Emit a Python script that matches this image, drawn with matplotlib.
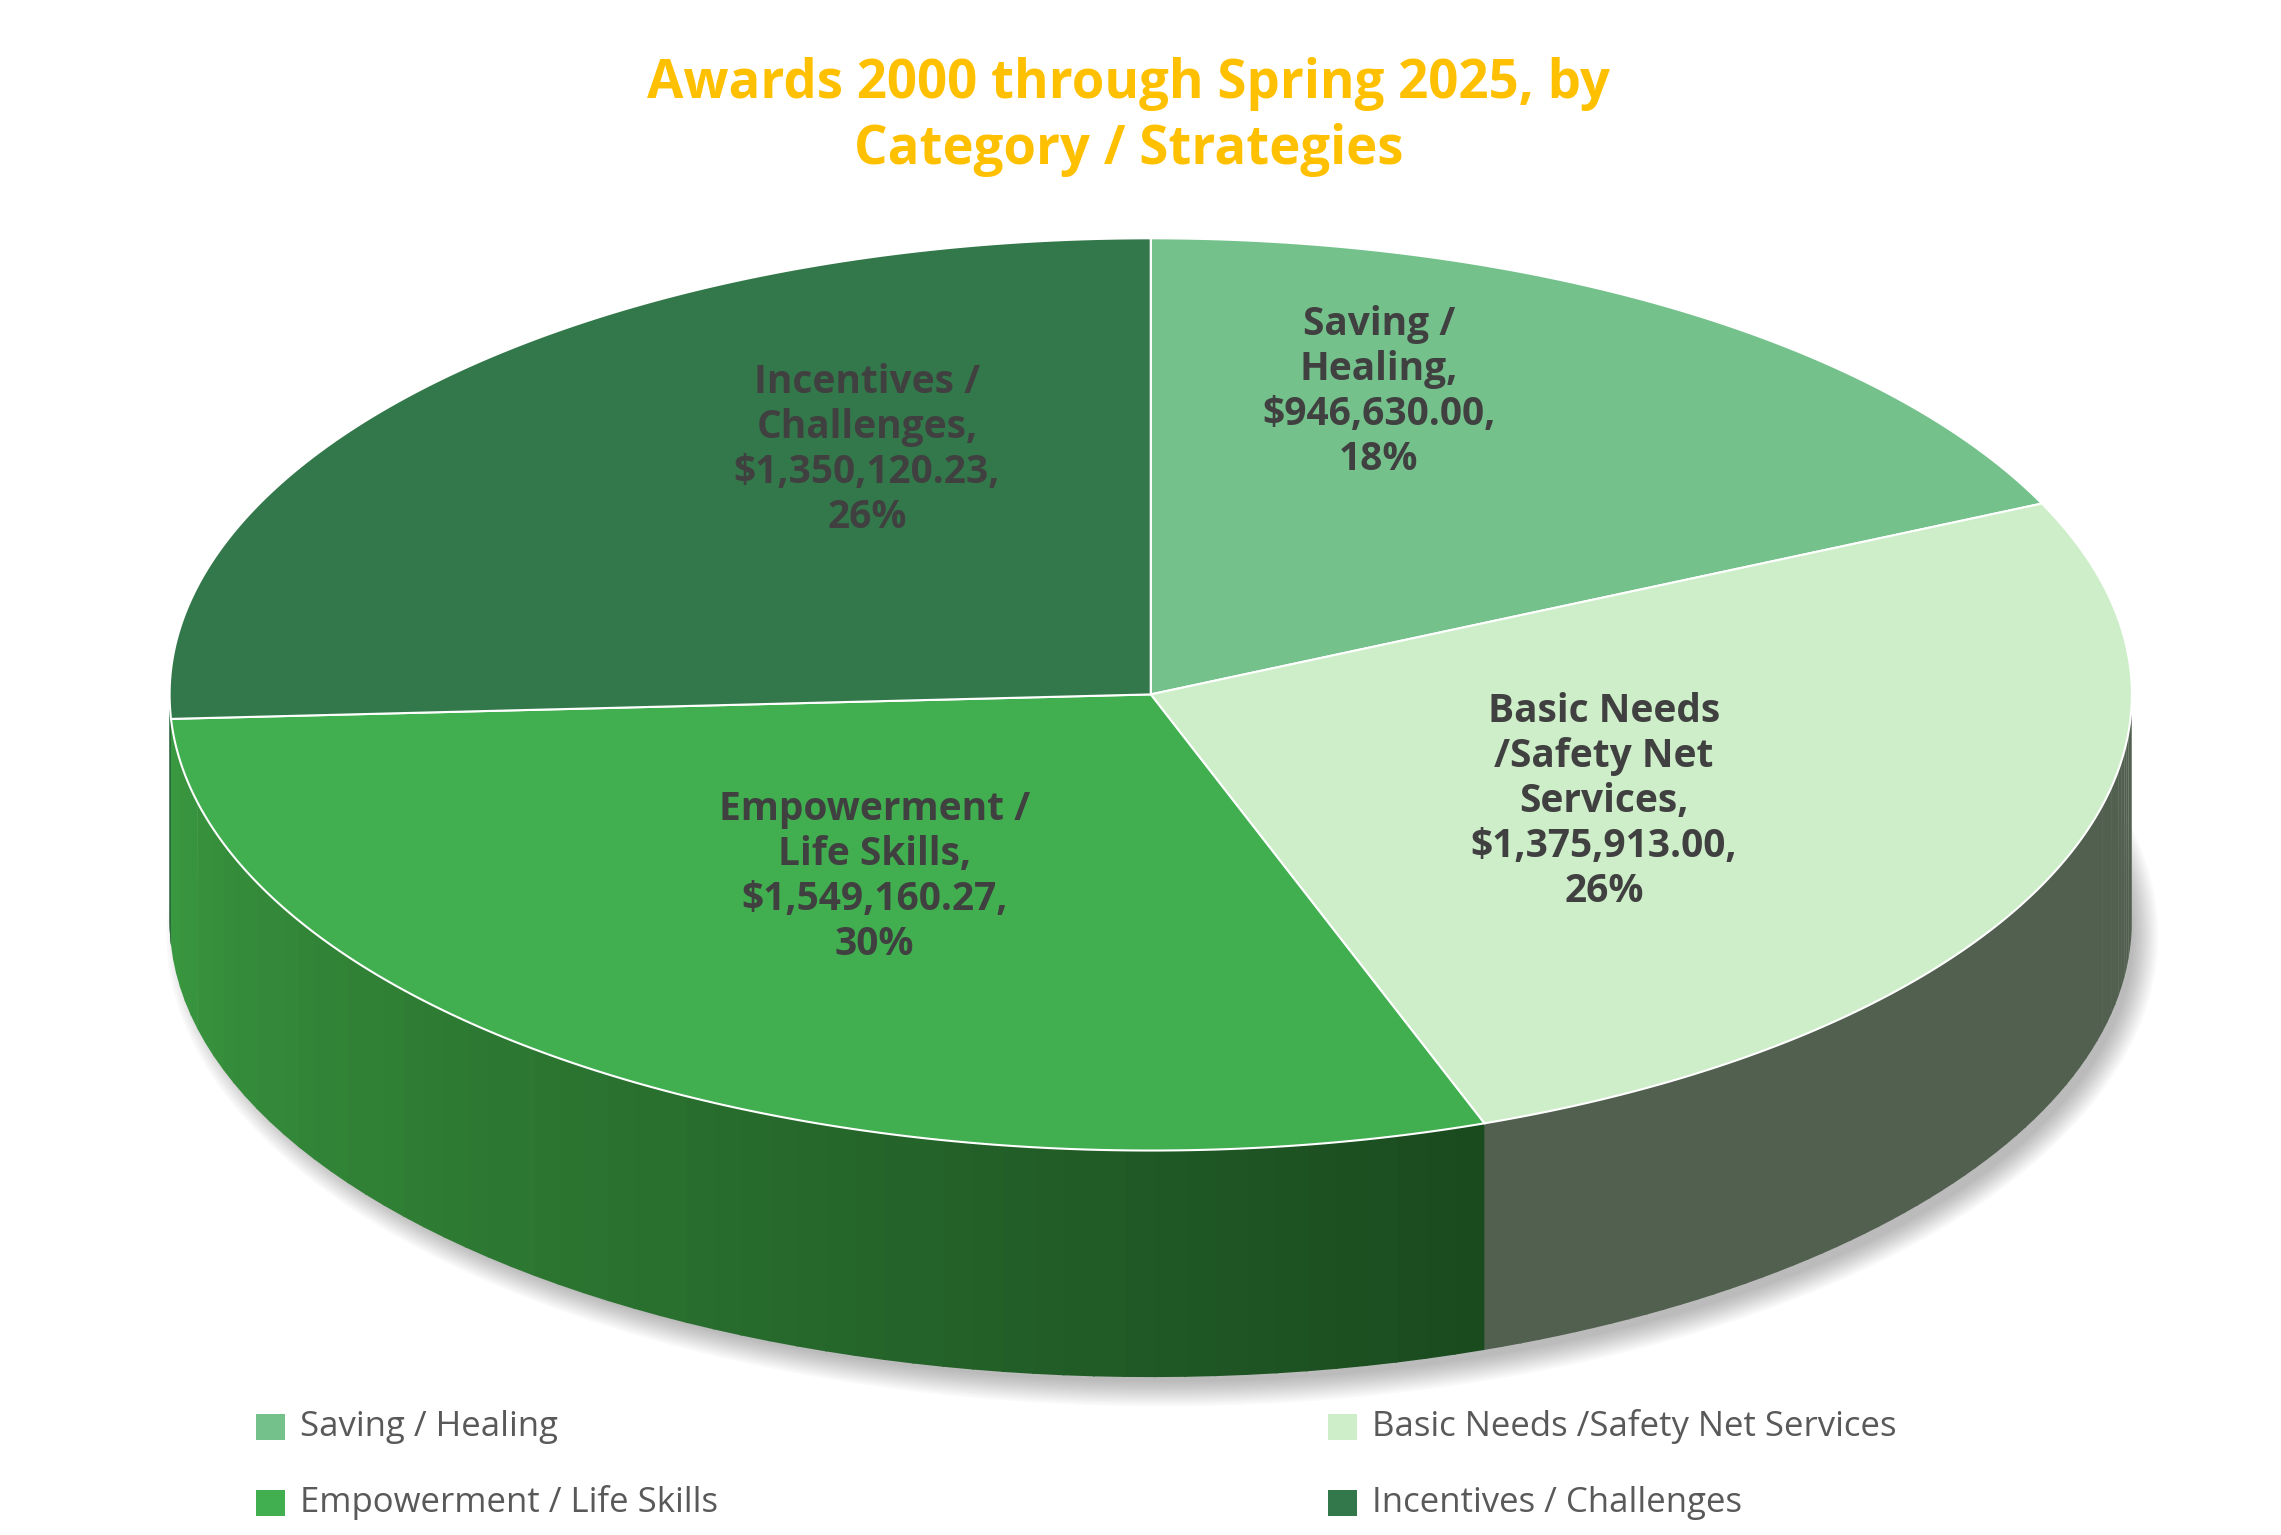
import numpy as np
import matplotlib.pyplot as plt
from matplotlib.patches import Polygon, Ellipse, Rectangle
import matplotlib.colors as mcolors

# =========================
# DATA
# =========================
categories = ["Saving / Healing", "Basic Needs /Safety Net Services",
              "Empowerment / Life Skills", "Incentives / Challenges"]
amounts = [946630.00, 1375913.00, 1549160.27, 1350120.23]
slice_labels = ["Saving /\nHealing,\n$946,630.00,\n18%",
                "Basic Needs\n/Safety Net\nServices,\n$1,375,913.00,\n26%",
                "Empowerment /\nLife Skills,\n$1,549,160.27,\n30%",
                "Incentives /\nChallenges,\n$1,350,120.23,\n26%"]
top_colors = ["#75c18c", "#cdeec8", "#41ae50", "#33784a"]
side_colors = [("#5a9a6c", "#5a9a6c"), ("#526050", "#526050"),
               ("#3a9a40", "#1a4a1f"), ("#2a6a3c", "#2a6a3c")]

plt.rcParams['font.family'] = ['Open Sans', 'DejaVu Sans']

W, H = 1560, 1050
fig = plt.figure(figsize=(22.81, 15.35), dpi=100)
ax = fig.add_axes([0, 0, 1, 1])
ax.set_xlim(0, W)
ax.set_ylim(H, 0)
ax.axis("off")

cx, cy, rx, ry, depth = 787, 475, 671, 312, 155

frac = np.array(amounts) / sum(amounts)
edges = np.concatenate([[0], np.cumsum(frac)]) * 2 * np.pi


def pt(t, dz=0.0):
    return cx + rx * np.sin(t), cy - ry * np.cos(t) + dz


# soft shadow
for k in range(12):
    ax.add_patch(Ellipse((cx + 8, cy + depth + 10), 2 * rx + 20 - k * 3,
                         2 * ry + 20 - k * 3, color="black", alpha=0.025, lw=0))

# side walls (front half only, t in [pi/2, 3pi/2])
for i in range(4):
    a0, a1 = max(edges[i], np.pi / 2), min(edges[i + 1], 3 * np.pi / 2)
    if a1 <= a0:
        continue
    n = 60
    ts = np.linspace(a0, a1, n + 1)
    c0 = np.array(mcolors.to_rgb(side_colors[i][0]))
    c1 = np.array(mcolors.to_rgb(side_colors[i][1]))
    for j in range(n):
        # gradient: darker toward the right
        f = 1 - (j + 0.5) / n
        col = c0 * (1 - f) + c1 * f if i == 2 else c0
        t0, t1 = ts[j], ts[j + 1] + 0.002
        poly = [pt(t0), pt(t1), pt(t1, depth), pt(t0, depth)]
        ax.add_patch(Polygon(poly, closed=True, color=col, lw=0))

# top faces
for i in range(4):
    ts = np.linspace(edges[i], edges[i + 1], 200)
    poly = [(cx, cy)] + [pt(t) for t in ts]
    ax.add_patch(Polygon(poly, closed=True, facecolor=top_colors[i],
                         edgecolor="white", lw=1.5))

# slice labels
label_pos = [(943, 268), (1097, 548), (598, 600), (593, 308)]
for (x, y), txt in zip(label_pos, slice_labels):
    ax.text(x, y, txt, ha="center", va="center", fontsize=28,
            fontweight="bold", color="#404040", linespacing=1.2)

# title
ax.text(W / 2 - 8, 80, "Awards 2000 through Spring 2025, by\nCategory / Strategies",
        ha="center", va="center", fontsize=38, fontweight="bold",
        color="#ffc000", linespacing=1.3)

# legend
leg_pos = [(175, 976), (908, 976), (175, 1028), (908, 1028)]
for (x, y), name, col in zip(leg_pos, categories, top_colors):
    ax.add_patch(Rectangle((x, y - 9), 20, 18, color=col, lw=0))
    ax.text(x + 30, y, name, ha="left", va="center", fontsize=25,
            color="#595959")

plt.savefig("out.png", dpi=100)
